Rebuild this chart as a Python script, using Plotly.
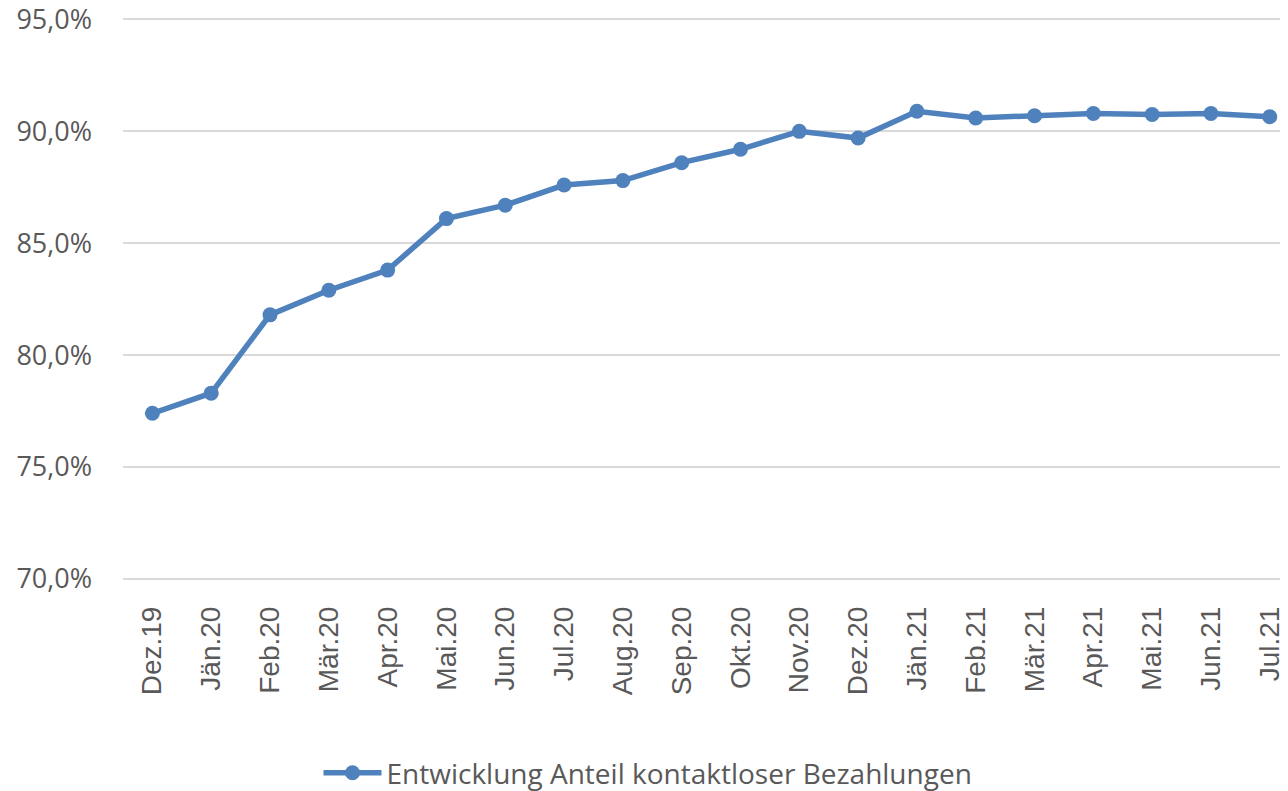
import plotly.graph_objects as go

months = ["Dez.19", "Jän.20", "Feb.20", "Mär.20", "Apr.20", "Mai.20", "Jun.20", "Jul.20",
          "Aug.20", "Sep.20", "Okt.20", "Nov.20", "Dez.20", "Jän.21", "Feb.21", "Mär.21",
          "Apr.21", "Mai.21", "Jun.21", "Jul.21"]
share = [77.4, 78.3, 81.8, 82.9, 83.8, 86.1, 86.7, 87.6, 87.8, 88.6, 89.2, 90.0, 89.7,
         90.9, 90.6, 90.7, 90.8, 90.75, 90.8, 90.65]
y_ticks = [70, 75, 80, 85, 90, 95]
y_labels = ["70,0%", "75,0%", "80,0%", "85,0%", "90,0%", "95,0%"]
series_name = "Entwicklung Anteil kontaktloser Bezahlungen"

color = "#4F81BD"
text_color = "#595959"

fig = go.Figure()
fig.add_trace(go.Scatter(
    x=list(range(len(months))), y=share, mode="lines+markers", name=series_name,
    line=dict(color=color, width=5.5),
    marker=dict(color=color, size=15),
))

# page body has an 8px margin, so the figure is 1280x783 placed at (8, 8)
fig.update_layout(
    width=1280, height=783,
    margin=dict(l=115, r=0, t=7, b=211, autoexpand=False),
    paper_bgcolor="white", plot_bgcolor="white",
    showlegend=True,
    legend=dict(orientation="h", x=(640 - 115) / 1165, xanchor="center",
                y=-(773 - 580) / 565, yanchor="middle", itemwidth=58,
                font=dict(family="Open Sans", size=28, color=text_color)),
    xaxis=dict(
        range=[-0.5, 19.31], tickmode="array",
        tickvals=list(range(len(months))), ticktext=months,
        tickangle=-90, showgrid=False, zeroline=False, showline=False,
        ticks="", ticklabelstandoff=20, automargin=False,
        tickfont=dict(family="Liberation Sans", size=28, color=text_color),
    ),
    yaxis=dict(
        range=[69.95, 95.2], tickmode="array", tickvals=y_ticks, ticktext=y_labels,
        showgrid=True, gridcolor="#D9D9D9", gridwidth=1.5, automargin=False,
        zeroline=False, showline=False, ticks="", ticklabelstandoff=30,
        ticklabeloverflow="allow",
        tickfont=dict(family="Open Sans", size=27, color=text_color),
    ),
)

fig.write_html("out.html")
